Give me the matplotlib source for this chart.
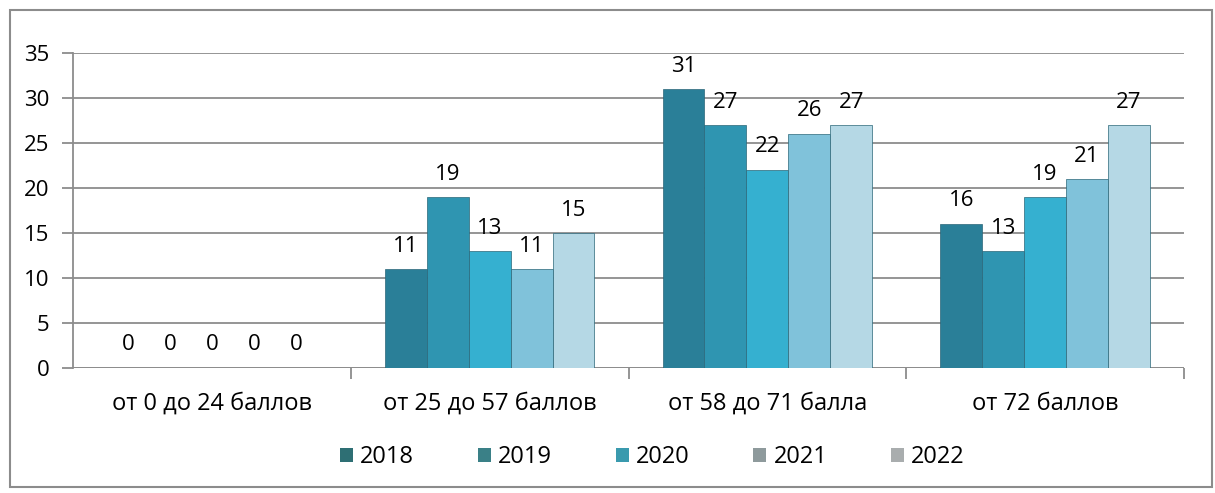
import numpy as np
import matplotlib.pyplot as plt
from matplotlib.patches import Patch, Rectangle

# данные
categories = ['от 0 до 24 баллов', 'от 25 до 57 баллов', 'от 58 до 71 балла', 'от 72 баллов']
years = ['2018', '2019', '2020', '2021', '2022']
v2018 = [0, 11, 31, 16]
v2019 = [0, 19, 27, 13]
v2020 = [0, 13, 22, 19]
v2021 = [0, 11, 26, 21]
v2022 = [0, 15, 27, 27]
series = [v2018, v2019, v2020, v2021, v2022]

bar_colors = ['#2a7f98', '#2f95b1', '#35b0d0', '#80c2da', '#b5d8e5']
legend_colors = ['#2e6f74', '#3a8087', '#3a9aae', '#8e9a9c', '#a9adae']

plt.rcParams['font.family'] = ['Open Sans', 'DejaVu Sans']

fig = plt.figure(figsize=(12.15, 4.93), dpi=100)
ax = fig.add_axes([73 / 1215, 1 - 368 / 493, 1111 / 1215, 315 / 493])

x = np.arange(len(categories))
w = 0.151
for i, (vals, c) in enumerate(zip(series, bar_colors)):
    pos = x + (i - 2) * w
    bars = ax.bar(pos, vals, width=w, color=c, edgecolor='#2a6678', linewidth=0.5, zorder=3)
    for b, v in zip(bars, vals):
        ax.annotate(str(v), (b.get_x() + b.get_width() / 2, v), xytext=(0, 9),
                    textcoords='offset points', ha='center', va='bottom', fontsize=16)

ax.set_xlim(-0.5, len(categories) - 0.5)
ax.set_ylim(0, 35)
ax.set_yticks(range(0, 36, 5))
ax.yaxis.grid(True, color='#8c8c8c', linewidth=1.3, zorder=0)
ax.set_axisbelow(True)
for s in ['top', 'right', 'bottom']:
    ax.spines[s].set_visible(False)
ax.spines['left'].set_color('#8c8c8c')
ax.spines['left'].set_linewidth(1.3)
ax.axhline(0, color='#8c8c8c', linewidth=1.3, zorder=2)
ax.tick_params(axis='y', length=8, color='#8c8c8c', width=1.3, labelsize=16, pad=9)
ax.set_xticks(x)
ax.set_xticklabels(categories, fontsize=17)
ax.tick_params(axis='x', length=0, pad=17)
ax.set_xticks(np.arange(0.5, len(categories), 1), minor=True)
ax.tick_params(axis='x', which='minor', length=8, color='#8c8c8c', width=1.3)

handles = [Patch(facecolor=c, edgecolor='none') for c in legend_colors]
fig.legend(handles, years, loc='center', bbox_to_anchor=(0.537, 0.073), ncol=5,
           frameon=False, fontsize=17, handlelength=0.55, handleheight=0.55,
           handletextpad=0.3, columnspacing=2.7)

fig.patches.append(Rectangle((10 / 1215, 6 / 493), 1202 / 1215, 477 / 493,
                             transform=fig.transFigure, fill=False,
                             edgecolor='#8c8c8c', linewidth=1.5))

fig.savefig('out.png', dpi=100)
